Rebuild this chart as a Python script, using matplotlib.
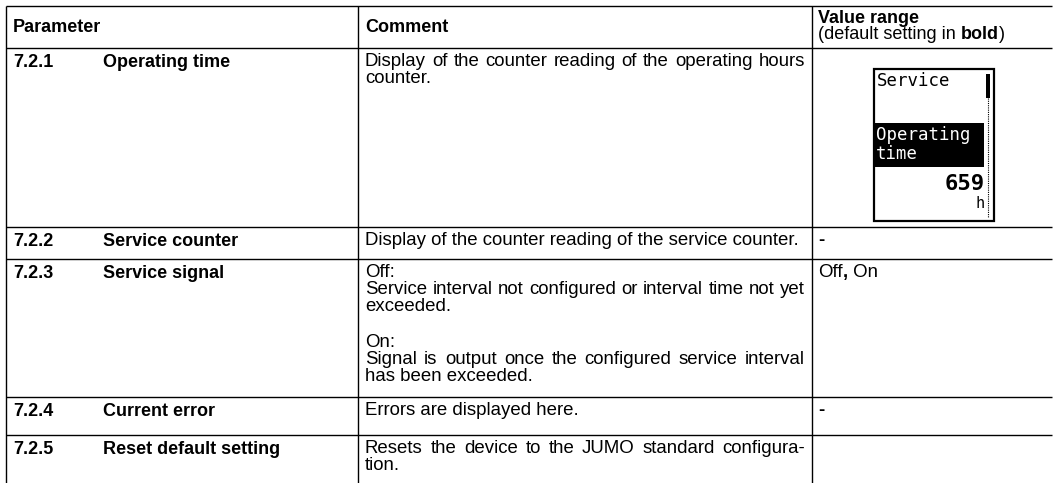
import matplotlib.pyplot as plt
from matplotlib.patches import Rectangle

plt.rcParams['font.family'] = ['Liberation Sans', 'DejaVu Sans']

# table content
headers = ["Parameter", "Comment", "Value range"]
param_numbers = ["7.2.1", "7.2.2", "7.2.3", "7.2.4", "7.2.5"]
param_names = ["Operating time", "Service counter", "Service signal",
               "Current error", "Reset default setting"]
# each comment: list of paragraphs, each paragraph a list of lines
comments = [
    [["Display of the counter reading of the operating hours", "counter."]],
    [["Display of the counter reading of the service counter."]],
    [["Off:", "Service interval not configured or interval time not yet", "exceeded."],
     ["On:", "Signal is output once the configured service interval", "has been exceeded."]],
    [["Errors are displayed here."]],
    [["Resets the device to the JUMO standard configura-", "tion."]],
]
# value column: runs of (text, bold)
values = [
    None,
    [("-", True)],
    [("Off", False), (",", True), (" On", False)],
    [("-", True)],
    None,
]
lcd_title = "Service"
lcd_item = ["Operating", "time"]
lcd_value = "659"
lcd_unit = "h"

# layout (pixels)
W, H = 1053, 483
row_lines = [6, 48, 227, 259, 397, 435]
col_lines = [6, 358, 812]
x_num, x_name, x_com, x_val = 13, 103, 365, 818
com_right = 805
line_h = 17.0
fs = 13        # labels / headers
fs_txt = 13.4  # comment and value text

fig = plt.figure(figsize=(W / 100, H / 100), dpi=100)
ax = fig.add_axes([0, 0, 1, 1])
ax.set_xlim(0, W)
ax.set_ylim(H, 0)
ax.axis('off')
renderer = fig.canvas.get_renderer()

for y in row_lines:
    ax.plot([col_lines[0], W - 1], [y, y], color='black', lw=1.0, solid_capstyle='butt')
for x in col_lines:
    ax.plot([x, x], [row_lines[0], H], color='black', lw=1.0, solid_capstyle='butt')


def runs(x, y, parts, size=fs_txt):
    for txt, bold in parts:
        t = ax.text(x, y, txt, fontsize=size, fontweight='bold' if bold else 'normal',
                    va='baseline', ha='left')
        x += t.get_window_extent(renderer).width


def justify(x, y, line, width, size=fs_txt):
    words = line.split(' ')
    objs = [ax.text(0, y, w, fontsize=size, va='baseline', ha='left') for w in words]
    widths = [o.get_window_extent(renderer).width for o in objs]
    gap = (width - sum(widths)) / max(len(words) - 1, 1)
    for o, w in zip(objs, widths):
        o.set_x(x)
        x += w + gap


# header
ax.text(x_num, 32, headers[0], fontsize=fs, fontweight='bold', va='baseline')
ax.text(x_com, 32, headers[1], fontsize=fs, fontweight='bold', va='baseline')
ax.text(x_val, 23, headers[2], fontsize=fs, fontweight='bold', va='baseline')
runs(x_val, 39, [("(default setting in ", False), ("bold", True), (")", False)], size=fs)

# rows
for i in range(len(param_numbers)):
    top = row_lines[i + 1]
    ax.text(x_num, top + 19, param_numbers[i], fontsize=fs, fontweight='bold', va='baseline')
    ax.text(x_name, top + 19, param_names[i], fontsize=fs, fontweight='bold', va='baseline')
    y = top + 18
    for p, para in enumerate(comments[i]):
        if p > 0:
            y += 19
        for j, ln in enumerate(para):
            last = j == len(para) - 1
            if last:
                ax.text(x_com, y, ln, fontsize=fs_txt, va='baseline')
            else:
                justify(x_com, y, ln, com_right - x_com)
            y += line_h
    if values[i] is not None:
        runs(x_val, top + 18, values[i])

# LCD display image in row 1
ax.add_patch(Rectangle((874, 69), 120, 152, fill=False, ec='black', lw=1.6))
ax.add_patch(Rectangle((875, 123), 109, 44, fc='black', ec='none'))
ax.add_patch(Rectangle((986, 74), 4, 24, fc='black', ec='none'))
ax.plot([988, 988], [98, 218], color='black', lw=0.8, ls=(0, (1, 1)))
mono = 'DejaVu Sans Mono'
ax.text(877, 81, lcd_title, family=mono, fontsize=12.5, va='center', ha='left')
ax.text(876, 135, lcd_item[0], family=mono, fontsize=12.5, va='center', ha='left', color='white')
ax.text(876, 154, lcd_item[1], family=mono, fontsize=12.5, va='center', ha='left', color='white')
ax.text(985, 184, lcd_value, family=mono, fontsize=16, fontweight='bold', va='center', ha='right')
ax.text(985, 203, lcd_unit, family=mono, fontsize=11, va='center', ha='right')

fig.savefig('out.png', dpi=100)
